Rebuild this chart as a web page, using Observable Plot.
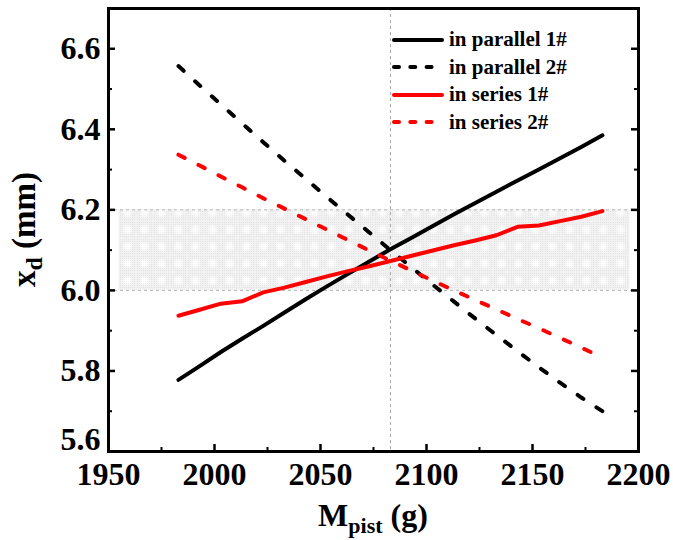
<!DOCTYPE html>
<html>
<head>
<meta charset="utf-8">
<script src="https://cdn.jsdelivr.net/npm/d3@7"></script>
<script src="https://cdn.jsdelivr.net/npm/@observablehq/plot@0.6"></script>
<style>
  body { margin: 0; background: #fff; }
  #wrap { position: relative; width: 673px; height: 540px; }
  .legend {
    position: absolute; left: 392px; top: 26px;
    font-family: "Liberation Serif", "Times New Roman", serif;
    font-weight: bold; font-size: 21px; color: #000;
  }
  .legend .row { display: flex; align-items: center; height: 27.5px; white-space: nowrap; }
  .legend svg { margin-right: 5px; flex: none; }
</style>
</head>
<body>
<div id="wrap"></div>
<script>
// Piston mass (g)
const mass = [1983, 1993, 2003, 2013, 2023, 2033, 2043, 2053, 2063, 2073, 2083,
              2093, 2103, 2113, 2123, 2133, 2143, 2153, 2163, 2173, 2183];

// x_d (mm) for each configuration
const parallel1 = [5.778, 5.812, 5.847, 5.880, 5.912, 5.945, 5.978, 6.010, 6.041, 6.072, 6.102,
                   6.131, 6.160, 6.189, 6.217, 6.245, 6.273, 6.300, 6.328, 6.356, 6.385];
const parallel2 = [6.557, 6.509, 6.462, 6.415, 6.368, 6.322, 6.277, 6.232, 6.188, 6.144, 6.100,
                   6.057, 6.014, 5.972, 5.930, 5.889, 5.849, 5.809, 5.771, 5.734, 5.700];
const series1   = [5.937, 5.952, 5.967, 5.973, 5.995, 6.007, 6.021, 6.035, 6.048, 6.060, 6.073,
                   6.086, 6.099, 6.112, 6.124, 6.137, 6.158, 6.161, 6.172, 6.183, 6.197];
const series2   = [6.337, 6.310, 6.283, 6.256, 6.229, 6.203, 6.177, 6.151, 6.125, 6.099, 6.074,
                   6.049, 6.024, 6.000, 5.976, 5.953, 5.929, 5.906, 5.882, 5.858, 5.833];

const seriesNames = ["in parallel 1#", "in parallel 2#", "in series 1#", "in series 2#"];

// Axis ticks
const xMajor = [1950, 2000, 2050, 2100, 2150, 2200];
const xMinor = [1975, 2025, 2075, 2125, 2175];
const yMajor = [5.6, 5.8, 6.0, 6.2, 6.4, 6.6];
const yMinor = [5.7, 5.9, 6.1, 6.3, 6.5];

// Tolerance band and reference mass
const bandY = [6.0, 6.2];
const bandX = [1955, 2196];
const refMass = [2083];

const W = 673, H = 540, mL = 108, mR = 35, mT = 8, mB = 89;
const plotW = W - mL - mR, plotH = H - mT - mB;
const serif = "'Liberation Serif', 'Times New Roman', serif";

const styles = [
  {name: seriesNames[0], values: parallel1, stroke: "#000000", dash: null},
  {name: seriesNames[1], values: parallel2, stroke: "#000000", dash: "7,15.5"},
  {name: seriesNames[2], values: series1,   stroke: "#ff0000", dash: null},
  {name: seriesNames[3], values: series2,   stroke: "#ff0000", dash: "7,15.5"}
];

const table = styles.map(s => mass.map((m, i) => ({name: s.name, m, v: s.values[i]})));

const yLabelStyle = {tickSize: 0, tickPadding: 8, label: null,
                     tickFormat: d => d.toFixed(1), fontSize: 32, fontWeight: "bold", fill: "#000"};

const chart = Plot.plot({
  width: W, height: H,
  marginLeft: mL, marginRight: mR, marginTop: mT, marginBottom: mB,
  x: {domain: [1950, 2200]},
  y: {domain: [5.6, 6.7]},
  style: {fontFamily: serif, fontWeight: "bold", fontSize: "32px", color: "#000", background: "#fff"},
  marks: [
    Plot.rect([{x1: bandX[0], x2: bandX[1], y1: bandY[0], y2: bandY[1]}],
              {x1: "x1", x2: "x2", y1: "y1", y2: "y2", fill: "#ebebeb"}),
    Plot.ruleY(bandY, {stroke: "#b4b4b4", strokeWidth: 1, strokeDasharray: "3,3"}),
    Plot.ruleX(refMass, {stroke: "#a8a8a8", strokeWidth: 1, strokeDasharray: "3,3"}),
    ...styles.map((s, k) => Plot.line(table[k], {
      x: "m", y: "v", stroke: s.stroke, strokeWidth: 4,
      strokeDasharray: s.dash, strokeLinecap: "round", strokeLinejoin: "round"
    })),
    // inward ticks: bottom, left, right
    Plot.ruleX(xMajor, {stroke: "#000", strokeWidth: 2.5, insetTop: plotH - 7}),
    Plot.ruleX(xMinor, {stroke: "#000", strokeWidth: 2, insetTop: plotH - 4}),
    Plot.ruleY(yMajor, {stroke: "#000", strokeWidth: 2.5, insetRight: plotW - 7}),
    Plot.ruleY(yMinor, {stroke: "#000", strokeWidth: 2, insetRight: plotW - 4}),
    Plot.ruleY(yMajor, {stroke: "#000", strokeWidth: 2.5, insetLeft: plotW - 7}),
    Plot.ruleY(yMinor, {stroke: "#000", strokeWidth: 2, insetLeft: plotW - 4}),
    Plot.axisX({ticks: xMajor, tickSize: 0, tickPadding: 11, label: null,
                tickFormat: d => String(d), fontSize: 32, fontWeight: "bold", fill: "#000"}),
    Plot.axisY({ticks: yMajor.slice(1), ...yLabelStyle}),
    // lowest label lifted clear of the first x label
    Plot.axisY({ticks: yMajor.slice(0, 1), ...yLabelStyle, dy: -12}),
    Plot.frame({stroke: "#000", strokeWidth: 3})
  ]
});

const svg = d3.select(chart);

// dotted texture for the tolerance band
const defs = svg.insert("defs", ":first-child");
const blur = defs.append("filter").attr("id", "soft").attr("x", "-50%").attr("y", "-50%")
  .attr("width", "200%").attr("height", "200%");
blur.append("feGaussianBlur").attr("stdDeviation", 1.6);
const pat = defs.append("pattern").attr("id", "shade").attr("patternUnits", "userSpaceOnUse")
  .attr("width", 17).attr("height", 17);
pat.append("rect").attr("width", 17).attr("height", 17).attr("fill", "#e4e4e4");
for (let i = 0; i < 17; i += 2) {
  pat.append("rect").attr("x", i).attr("y", 0).attr("width", 1).attr("height", 17).attr("fill", "#f1f1f1");
  pat.append("rect").attr("x", 0).attr("y", i).attr("width", 17).attr("height", 1).attr("fill", "#f1f1f1");
}
pat.append("circle").attr("cx", 8.5).attr("cy", 8.5).attr("r", 4).attr("fill", "#fff")
  .attr("opacity", 0.85).attr("filter", "url(#soft)");
svg.select('g[aria-label="rect"] rect').attr("fill", "url(#shade)");

// axis titles with subscripts
const xt = svg.append("text")
  .attr("x", mL + plotW / 2).attr("y", 526)
  .attr("text-anchor", "middle").attr("font-size", 32).attr("font-weight", "bold")
  .attr("font-family", serif).attr("fill", "#000");
xt.append("tspan").text("M");
xt.append("tspan").attr("font-size", 22).attr("dy", 7).text("pist");
xt.append("tspan").attr("dy", -7).text(" (g)");

const yt = svg.append("text")
  .attr("transform", `translate(35,${mT + plotH / 2}) rotate(-90)`)
  .attr("text-anchor", "middle").attr("font-size", 33).attr("font-weight", "bold")
  .attr("font-family", serif).attr("fill", "#000");
yt.append("tspan").text("x");
yt.append("tspan").attr("font-size", 24).attr("dy", 7).text("d");
yt.append("tspan").attr("dy", -7).text(" (mm)");

const wrap = document.getElementById("wrap");
wrap.appendChild(chart);

// legend
const legend = d3.select(wrap).append("div").attr("class", "legend");
styles.forEach(s => {
  const row = legend.append("div").attr("class", "row");
  const ls = row.append("svg").attr("width", 52).attr("height", 10);
  ls.append("line").attr("x1", 2).attr("x2", 50).attr("y1", 5).attr("y2", 5)
    .attr("stroke", s.stroke).attr("stroke-width", 4).attr("stroke-linecap", "round")
    .attr("stroke-dasharray", s.dash ? "5,11.3" : null);
  row.append("span").text(s.name);
});
</script>
</body>
</html>
